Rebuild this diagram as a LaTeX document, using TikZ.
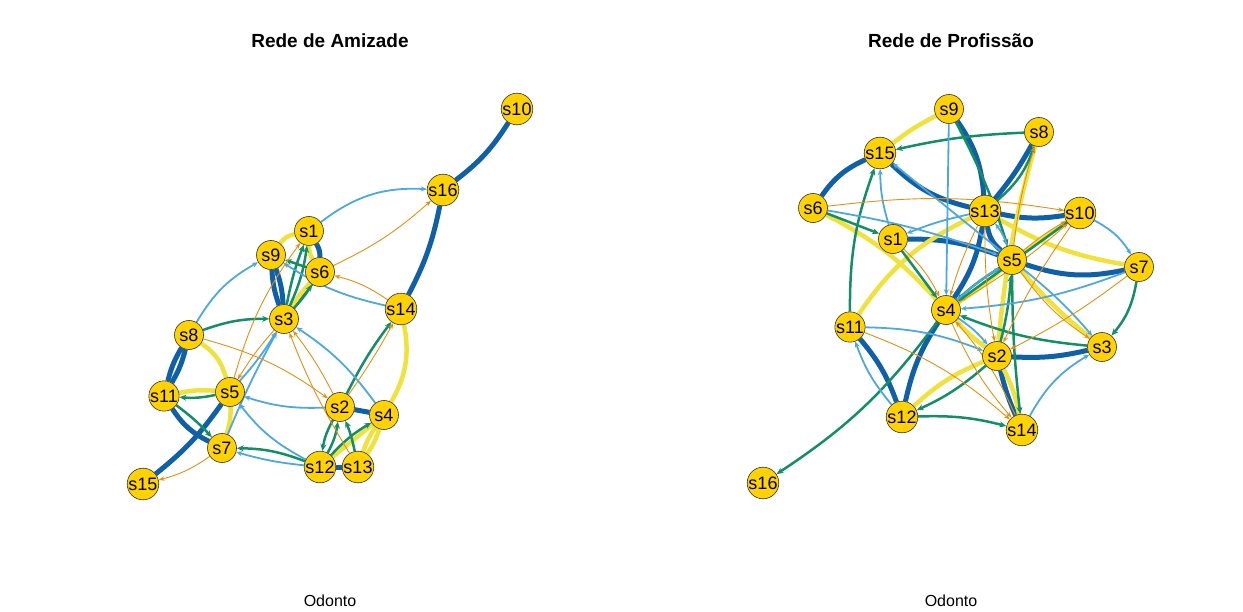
\documentclass[tikz,border=0pt]{standalone}
\usepackage{fontspec}
\setmainfont{Liberation Sans}
\usetikzlibrary{arrows.meta,backgrounds}
\definecolor{tieblue}{RGB}{16,96,168}
\definecolor{tieyellow}{RGB}{240,226,60}
\definecolor{tiegreen}{RGB}{20,142,102}
\definecolor{tiesky}{RGB}{78,168,224}
\definecolor{tieorange}{RGB}{226,144,16}
\definecolor{actorgold}{RGB}{255,210,0}

\begin{document}
\begin{tikzpicture}[x=1pt,y=-1pt,
  actor/.style={circle,fill=actorgold,draw=black!80,line width=0.6pt,minimum size=29pt,inner sep=0pt,font=\fontsize{18}{18}\selectfont},
  tieA/.style={draw=tieblue,line width=5pt},
  tieB/.style={draw=tieyellow,line width=4.5pt},
  tieC/.style={draw=tiegreen,line width=2.5pt,-{Stealth[length=7pt,width=6pt]}},
  tieD/.style={draw=tiesky,line width=1.8pt,-{Stealth[length=6pt,width=5pt]}},
  tieE/.style={draw=tieorange,line width=0.9pt,-{Stealth[length=6pt,width=4.5pt]}},
  heading/.style={font=\bfseries\fontsize{19}{19}\selectfont},
  caption/.style={font=\fontsize{16}{16}\selectfont}]
  \useasboundingbox (0,0) rectangle (1243,612);

  \node[heading] (tA) at (330,41) {Rede de Amizade};
  \node[heading] (tP) at (951,41) {Rede de Profissão};
  \node[caption] (cA) at (330,601) {Odonto};
  \node[caption] (cP) at (951,601) {Odonto};

  \node[actor] (a10) at (517,109) {s10};
  \node[actor] (a16) at (443,190) {s16};
  \node[actor] (a1)  at (309,231) {s1};
  \node[actor] (a9)  at (271,255) {s9};
  \node[actor] (a6)  at (320,272) {s6};
  \node[actor] (a3)  at (284,319) {s3};
  \node[actor] (a14) at (401,309) {s14};
  \node[actor] (a8)  at (189,335) {s8};
  \node[actor] (a11) at (164,396) {s11};
  \node[actor] (a5)  at (230,392) {s5};
  \node[actor] (a2)  at (340,407) {s2};
  \node[actor] (a4)  at (384,415) {s4};
  \node[actor] (a7)  at (222,448) {s7};
  \node[actor] (a12) at (320,467) {s12};
  \node[actor] (a13) at (358,467) {s13};
  \node[actor] (a15) at (143,484) {s15};

  \node[actor] (p9)  at (949,109) {s9};
  \node[actor] (p8)  at (1039,132) {s8};
  \node[actor] (p15) at (880,153) {s15};
  \node[actor] (p6)  at (813,208) {s6};
  \node[actor] (p13) at (985,211) {s13};
  \node[actor] (p10) at (1080,213) {s10};
  \node[actor] (p1)  at (893,239) {s1};
  \node[actor] (p5)  at (1012,260) {s5};
  \node[actor] (p7)  at (1139,267) {s7};
  \node[actor] (p4)  at (946,310) {s4};
  \node[actor] (p11) at (850,327) {s11};
  \node[actor] (p2)  at (997,356) {s2};
  \node[actor] (p3)  at (1102,347) {s3};
  \node[actor] (p12) at (902,417) {s12};
  \node[actor] (p14) at (1022,430) {s14};
  \node[actor] (p16) at (763,483) {s16};

  \begin{pgfonlayer}{background}
  % Amizade
  \foreach \u/\v/\b in {a16/a10/10,a16/a14/-8,a9/a3/8,a9/a3/-8,a6/a3/0,a1/a6/-15,a8/a11/8,a8/a11/-8,a11/a7/15,a5/a15/-8,a2/a4/0,a12/a13/0}
    \draw[tieA] (\u) to[bend right=\b] (\v);
  \foreach \u/\v/\b in {a9/a1/-20,a1/a6/15,a6/a3/5,a8/a5/-20,a11/a5/-8,a5/a7/-10,a14/a4/-20,a4/a13/8,a4/a13/-8,a4/a12/0}
    \draw[tieB] (\u) to[bend right=\b] (\v);
  \foreach \u/\v/\b in {a8/a3/-10,a5/a11/-8,a11/a7/-5,a12/a7/10,a6/a9/0,a3/a1/8,a3/a1/-5,a3/a6/5,a2/a14/-5,a12/a2/10,a2/a12/10,a13/a2/5,a12/a4/-8}
    \draw[tieC] (\u) to[bend right=\b] (\v);
  \foreach \u/\v/\b in {a1/a16/-20,a8/a9/-15,a14/a9/-10,a4/a3/10,a2/a5/-10,a12/a5/-12,a12/a7/-5,a7/a3/-3,a5/a3/5}
    \draw[tieD] (\u) to[bend right=\b] (\v);
  \foreach \u/\v/\b in {a6/a16/8,a14/a6/10,a8/a2/-10,a2/a3/5,a13/a3/-5,a5/a1/-10,a3/a5/5,a2/a14/3,a7/a15/-10}
    \draw[tieE] (\u) to[bend right=\b] (\v);
  % Profissao
  \foreach \u/\v/\b in {p6/p15/-15,p15/p13/15,p13/p10/10,p9/p13/-15,p13/p8/5,p1/p5/-10,p5/p7/15,p13/p4/-12,p13/p5/20,p2/p3/8,p4/p12/10,p11/p12/-10,p2/p14/5}
    \draw[tieA] (\u) to[bend right=\b] (\v);
  \foreach \u/\v/\b in {p9/p15/5,p6/p4/-10,p11/p13/-15,p13/p7/10,p8/p2/5,p5/p10/0,p5/p3/5,p5/p4/-5,p4/p2/5,p2/p12/10,p2/p14/-8}
    \draw[tieB] (\u) to[bend right=\b] (\v);
  \foreach \u/\v/\b in {p8/p15/5,p9/p5/-5,p13/p8/15,p6/p1/0,p1/p4/0,p11/p15/-10,p10/p4/0,p5/p4/5,p3/p4/-8,p7/p3/-15,p5/p14/3,p2/p12/-8,p12/p14/-8,p4/p16/-10,p2/p5/5}
    \draw[tieC] (\u) to[bend right=\b] (\v);
  \foreach \u/\v/\b in {p9/p4/0,p1/p15/-8,p5/p15/0,p6/p5/-5,p13/p1/5,p5/p13/10,p10/p7/-15,p7/p4/-8,p11/p2/-10,p12/p11/-10,p14/p3/-15,p5/p3/-5,p4/p2/-8,p4/p5/-5}
    \draw[tieD] (\u) to[bend right=\b] (\v);
  \foreach \u/\v/\b in {p6/p10/-8,p4/p10/5,p5/p10/-5,p1/p4/-10,p13/p4/5,p5/p8/-5,p10/p2/5,p7/p2/-5,p5/p3/10,p11/p14/-10,p4/p14/8,p14/p4/8,p13/p2/5}
    \draw[tieE] (\u) to[bend right=\b] (\v);
  \end{pgfonlayer}
\end{tikzpicture}
\end{document}
